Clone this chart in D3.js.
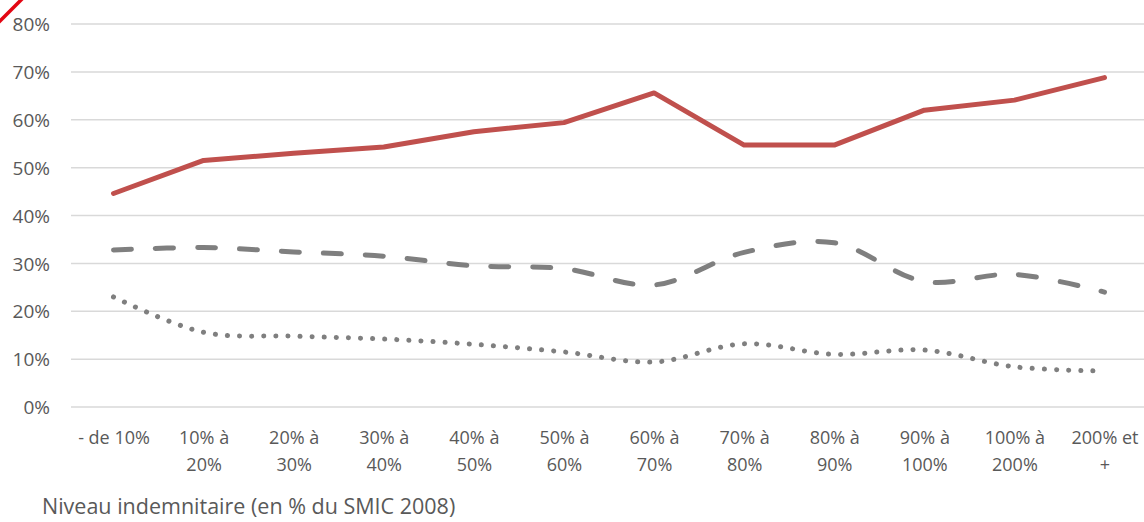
<!DOCTYPE html>
<html><head><meta charset="utf-8">
<script src="https://cdn.jsdelivr.net/npm/d3@7"></script>
<style>
html,body{margin:0;padding:0;background:#fff;}
svg{display:block;}
text{font-family:"Open Sans",Lato,sans-serif;fill:#595959;}
</style></head>
<body>
<svg id="c" width="1144" height="522"></svg>
<script>
const categories = ["- de 10%","10% à|20%","20% à|30%","30% à|40%","40% à|50%","50% à|60%","60% à|70%","70% à|80%","80% à|90%","90% à|100%","100% à|200%","200% et|+"];
const seriesSolid = [44.6, 51.5, 53.0, 54.3, 57.5, 59.4, 65.6, 54.7, 54.7, 62.0, 64.1, 68.8];
const seriesDashed = [32.8, 33.3, 32.4, 31.5, 29.5, 28.9, 25.5, 32.3, 34.3, 26.2, 27.7, 24.0];
const seriesDotted = [23.0, 15.6, 14.8, 14.2, 13.1, 11.5, 9.4, 13.2, 11.0, 11.9, 8.4, 7.5];
const yTicks = [0,10,20,30,40,50,60,70,80];
const xTitle = "Niveau indemnitaire (en % du SMIC 2008)";

const svg = d3.select("#c");
const x = d3.scalePoint().domain(categories).range([113.5, 1104.5]);
const y = d3.scaleLinear().domain([0,80]).range([407, 24]);

// top-left red mark
svg.append("line").attr("x1",-2).attr("y1",23).attr("x2",23).attr("y2",-2)
  .attr("stroke","#E30613").attr("stroke-width",3.5);

// gridlines
svg.append("g").selectAll("line").data(yTicks).join("line")
  .attr("x1",71).attr("x2",1144)
  .attr("y1",d=>y(d)).attr("y2",d=>y(d))
  .attr("stroke","#D9D9D9").attr("stroke-width",1.5);

// y labels
const yAxis = d3.axisLeft(y).tickValues(yTicks).tickFormat(d=>d+"%").tickSize(0).tickPadding(0);
const gy = svg.append("g").attr("transform","translate(50,0)").call(yAxis);
gy.select(".domain").remove();
gy.selectAll("text").attr("font-size",19).attr("fill","#595959")
  .style("font-family","'Open Sans',Lato,sans-serif").attr("dy","0.35em");

// x labels
const xAxis = d3.axisBottom(x).tickSize(0).tickFormat("");
const gx = svg.append("g").attr("transform","translate(0,407)").call(xAxis);
gx.select(".domain").remove();
gx.selectAll(".tick").each(function(d){
  const parts = d.split("|");
  const t = d3.select(this).append("text").attr("text-anchor","middle")
    .attr("font-size",18).attr("fill","#595959");
  parts.forEach((p,i)=>t.append("tspan").attr("x",0).attr("y",37+i*27).text(p));
});

// lines
const lineStraight = d3.line().x((d,i)=>x(categories[i])).y(d=>y(d));
const lineSmooth = d3.line().x((d,i)=>x(categories[i])).y(d=>y(d)).curve(d3.curveCatmullRom.alpha(0.5));

svg.append("path").datum(seriesDotted).attr("d",lineSmooth)
  .attr("fill","none").attr("stroke","#7F7F7F").attr("stroke-width",5)
  .attr("stroke-linecap","round").attr("stroke-dasharray","0.1 12");
svg.append("path").datum(seriesDashed).attr("d",lineSmooth)
  .attr("fill","none").attr("stroke","#7F7F7F").attr("stroke-width",5)
  .attr("stroke-linecap","round").attr("stroke-dasharray","18 24");
svg.append("path").datum(seriesSolid).attr("d",lineStraight)
  .attr("fill","none").attr("stroke","#C0504D").attr("stroke-width",5)
  .attr("stroke-linejoin","round").attr("stroke-linecap","round");

// x title
svg.append("text").attr("x",42).attr("y",514).attr("font-size",21.5).attr("fill","#595959").text(xTitle);
</script>
</body></html>
